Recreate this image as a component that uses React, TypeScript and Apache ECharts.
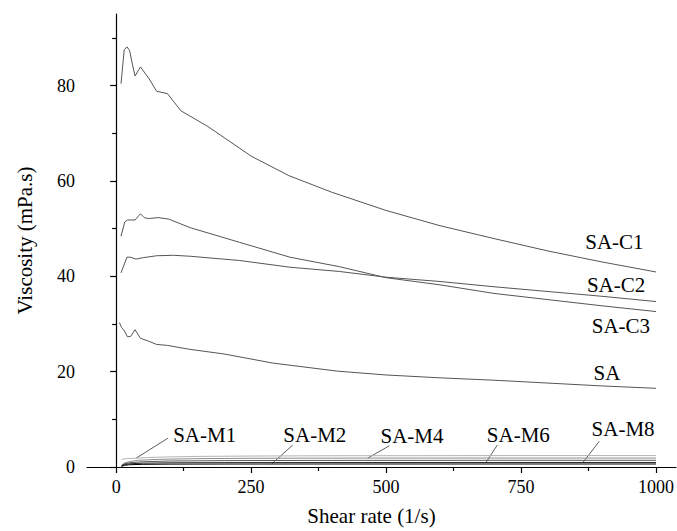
import { useEffect, useRef } from "react";
import * as echarts from "echarts";

// Axis ranges and tick positions
const X_MIN = -54;
const X_MAX = 1037;
const Y_MIN = 0;
const Y_MAX = 95;
const xMajorTicks = [0, 250, 500, 750, 1000];
const xMinorTicks = [125, 375, 625, 875];
const yMajorTicks = [0, 20, 40, 60, 80];
const yMinorTicks = [10, 30, 50, 70, 90];

type Pt = [number, number];

// Viscosity (mPa.s) vs shear rate (1/s)
const saC1: Pt[] = [
  [9, 80.4], [15, 87.5], [20, 88.1], [25, 87.3], [30, 84.5], [35, 82.0], [45, 83.9],
  [60, 81.6], [75, 78.8], [95, 78.3], [120, 74.7], [170, 71.4], [250, 65.2], [320, 61.1],
  [400, 57.6], [500, 53.8], [600, 50.6], [700, 47.9], [800, 45.3], [900, 43.0], [1000, 40.9],
];
const saC2: Pt[] = [
  [9, 40.7], [20, 44.0], [26, 44.0], [37, 43.6], [50, 43.9], [75, 44.3], [106, 44.4],
  [137, 44.2], [229, 43.3], [322, 41.9], [414, 41.0], [500, 39.8], [600, 38.9], [700, 37.8],
  [800, 36.8], [900, 35.8], [1000, 34.7],
];
const saC3: Pt[] = [
  [9, 48.4], [16, 51.4], [21, 51.8], [35, 51.8], [45, 53.1], [52, 52.3], [60, 52.1],
  [78, 52.3], [97, 52.0], [137, 50.2], [229, 47.1], [322, 44.0], [414, 42.0], [500, 39.7],
  [600, 38.2], [700, 36.4], [800, 35.1], [900, 33.8], [1000, 32.6],
];
const sa: Pt[] = [
  [6, 30.3], [10, 29.3], [15, 28.6], [21, 27.3], [27, 27.4], [35, 28.8], [45, 27.0],
  [60, 26.4], [75, 25.7], [95, 25.5], [135, 24.7], [200, 23.7], [290, 21.8], [410, 20.1],
  [500, 19.3], [600, 18.7], [700, 18.2], [800, 17.6], [900, 17.0], [1000, 16.5],
];
const saM1: Pt[] = [
  [10, 1.65], [20, 1.75], [37, 1.85], [60, 2.0], [94, 2.1], [150, 2.22], [250, 2.3],
  [400, 2.36], [600, 2.38], [800, 2.4], [1000, 2.4],
];
const saM4: Pt[] = [
  [10, 0.35], [15, 0.8], [25, 1.15], [40, 1.4], [80, 1.6], [150, 1.75], [250, 1.83],
  [400, 1.86], [600, 1.88], [800, 1.88], [1000, 1.88],
];
const saM8: Pt[] = [
  [10, 0.3], [15, 0.65], [25, 0.9], [50, 1.1], [100, 1.25], [200, 1.34], [400, 1.38],
  [700, 1.4], [1000, 1.4],
];
const saM6: Pt[] = [
  [10, 0.2], [15, 0.5], [25, 0.68], [50, 0.8], [100, 0.88], [200, 0.92], [400, 0.94],
  [700, 0.94], [1000, 0.94],
];
const saM2: Pt[] = [
  [10, 0.12], [15, 0.35], [25, 0.48], [50, 0.56], [100, 0.6], [200, 0.62], [400, 0.63],
  [700, 0.63], [1000, 0.63],
];

const curves = [
  { name: "SA-C1", data: saC1, color: "#555555" },
  { name: "SA-C2", data: saC2, color: "#555555" },
  { name: "SA-C3", data: saC3, color: "#555555" },
  { name: "SA", data: sa, color: "#555555" },
  { name: "SA-M1", data: saM1, color: "#b4b4b4" },
  { name: "SA-M4", data: saM4, color: "#8c8c8c" },
  { name: "SA-M8", data: saM8, color: "#5a5a5a" },
  { name: "SA-M6", data: saM6, color: "#2a2a2a" },
  { name: "SA-M2", data: saM2, color: "#000000" },
];

// Curve labels, centred at data coordinates
const curveLabels: { text: string; at: Pt }[] = [
  { text: "SA-C1", at: [923, 47.2] },
  { text: "SA-C2", at: [926, 38.2] },
  { text: "SA-C3", at: [935, 29.6] },
  { text: "SA", at: [909, 19.8] },
  { text: "SA-M1", at: [164, 6.74] },
  { text: "SA-M2", at: [368, 6.74] },
  { text: "SA-M4", at: [548, 6.6] },
  { text: "SA-M6", at: [745, 6.7] },
  { text: "SA-M8", at: [939, 8.0] },
];

// Leader lines from the low-viscosity labels to their curves
const leaders: { from: Pt; to: Pt }[] = [
  { from: [96, 6.05], to: [37, 1.85] },
  { from: [327, 4.6], to: [288, 0.63] },
  { from: [506, 4.45], to: [466, 1.86] },
  { from: [706, 4.6], to: [685, 0.94] },
  { from: [895, 5.4], to: [865, 1.0] },
];

const FONT = "Liberation Serif, Times New Roman, serif";

export default function App() {
  const ref = useRef<HTMLDivElement>(null);

  useEffect(() => {
    if (!ref.current) return;
    const chart = echarts.init(ref.current, undefined, { renderer: "svg" });

    const axisLine = { show: true, lineStyle: { color: "#000", width: 1.2 } };

    chart.setOption({
      animation: false,
      backgroundColor: "#ffffff",
      textStyle: { fontFamily: FONT },
      grid: { left: 87, right: 0, top: 14, bottom: 62, containLabel: false },
      xAxis: [
        {
          type: "value",
          min: X_MIN,
          max: X_MAX,
          name: "Shear rate (1/s)",
          nameLocation: "middle",
          nameGap: 38,
          nameTextStyle: {
            fontFamily: FONT,
            fontSize: 21,
            color: "#000",
            padding: [0, 20, 0, 0],
          },
          axisLine,
          axisTick: { show: true, inside: false, length: 6, customValues: xMajorTicks, lineStyle: { color: "#000", width: 1.2 } },
          axisLabel: {
            customValues: xMajorTicks,
            formatter: (v: number) => String(v),
            fontFamily: FONT,
            fontSize: 18,
            color: "#000",
            margin: 11,
          },
          splitLine: { show: false },
        },
        {
          type: "value",
          min: X_MIN,
          max: X_MAX,
          position: "bottom",
          axisLine: { show: false },
          axisTick: { show: true, inside: false, length: 4, customValues: xMinorTicks, lineStyle: { color: "#000", width: 1.2 } },
          axisLabel: { show: false },
          splitLine: { show: false },
        },
      ],
      yAxis: [
        {
          type: "value",
          min: Y_MIN,
          max: Y_MAX,
          name: "Viscosity (mPa.s)",
          nameLocation: "middle",
          nameGap: 52,
          nameTextStyle: { fontFamily: FONT, fontSize: 21, color: "#000" },
          axisLine,
          axisTick: { show: true, inside: false, length: 6, customValues: yMajorTicks, lineStyle: { color: "#000", width: 1.2 } },
          axisLabel: {
            customValues: yMajorTicks,
            formatter: (v: number) => String(v),
            fontFamily: FONT,
            fontSize: 18,
            color: "#000",
            margin: 12,
          },
          splitLine: { show: false },
        },
        {
          type: "value",
          min: Y_MIN,
          max: Y_MAX,
          position: "left",
          axisLine: { show: false },
          axisTick: { show: true, inside: false, length: 4, customValues: yMinorTicks, lineStyle: { color: "#000", width: 1.2 } },
          axisLabel: { show: false },
          splitLine: { show: false },
        },
      ],
      series: curves.map((c) => ({
        name: c.name,
        type: "line",
        data: c.data,
        xAxisIndex: 0,
        yAxisIndex: 0,
        showSymbol: false,
        smooth: false,
        lineStyle: { color: c.color, width: 1 },
        emphasis: { disabled: true },
        silent: true,
        z: 2,
      })),
    });

    const toPx = (p: Pt) =>
      chart.convertToPixel({ xAxisIndex: 0, yAxisIndex: 0 }, p) as number[];

    const graphic: any[] = [];
    curveLabels.forEach((l) => {
      const [x, y] = toPx(l.at);
      graphic.push({
        type: "text",
        x,
        y,
        silent: true,
        style: {
          text: l.text,
          fontFamily: FONT,
          fontSize: 21,
          fill: "#000",
          align: "center",
          verticalAlign: "middle",
        },
      });
    });
    leaders.forEach((l) => {
      const [x1, y1] = toPx(l.from);
      const [x2, y2] = toPx(l.to);
      graphic.push({
        type: "line",
        silent: true,
        shape: { x1, y1, x2, y2 },
        style: { stroke: "#333", lineWidth: 0.8 },
      });
    });
    chart.setOption({ graphic });

    return () => chart.dispose();
  }, []);

  return (
    <div
      ref={ref}
      style={{ position: "fixed", left: 0, top: 0, width: 677, height: 531 }}
    />
  );
}
